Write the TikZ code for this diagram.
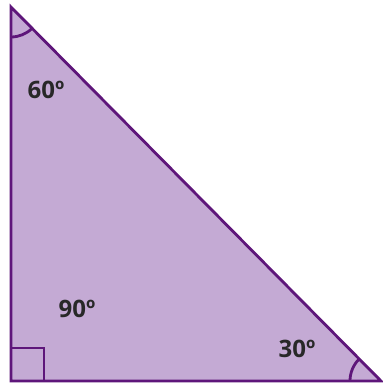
\documentclass[tikz,border=0pt]{standalone}
\usepackage{fontspec}
\setmainfont{Open Sans}
\definecolor{trifill}{RGB}{196,170,212}
\definecolor{tristroke}{RGB}{94,22,122}
\definecolor{txt}{RGB}{40,40,40}
\begin{document}
\begin{tikzpicture}[x=1pt,y=1pt,
  edge/.style={draw=tristroke,line width=2.8pt,line join=miter},
  anglelbl/.style={font=\fontsize{24}{24}\selectfont\bfseries,text=txt,inner sep=0pt}]
\useasboundingbox (0,0) rectangle (383,383);
\coordinate (A) at (11,376);
\coordinate (B) at (11,2);
\coordinate (C) at (381,2);
\fill[trifill] (A) -- (B) -- (C) -- cycle;
\draw[edge] (B) rectangle ++(33,33);
\draw[edge] ([shift={(270:30)}]A) arc[start angle=270,end angle=314.7,radius=30];
\draw[edge] ([shift={(134.7:31)}]C) arc[start angle=134.7,end angle=180,radius=31];
\draw[edge] (A) -- (B) -- (C) -- cycle;
\node[anglelbl] (a60) at (46,293) {60º};
\node[anglelbl] (a90) at (77,74) {90º};
\node[anglelbl] (a30) at (297,34) {30º};
\end{tikzpicture}
\end{document}
